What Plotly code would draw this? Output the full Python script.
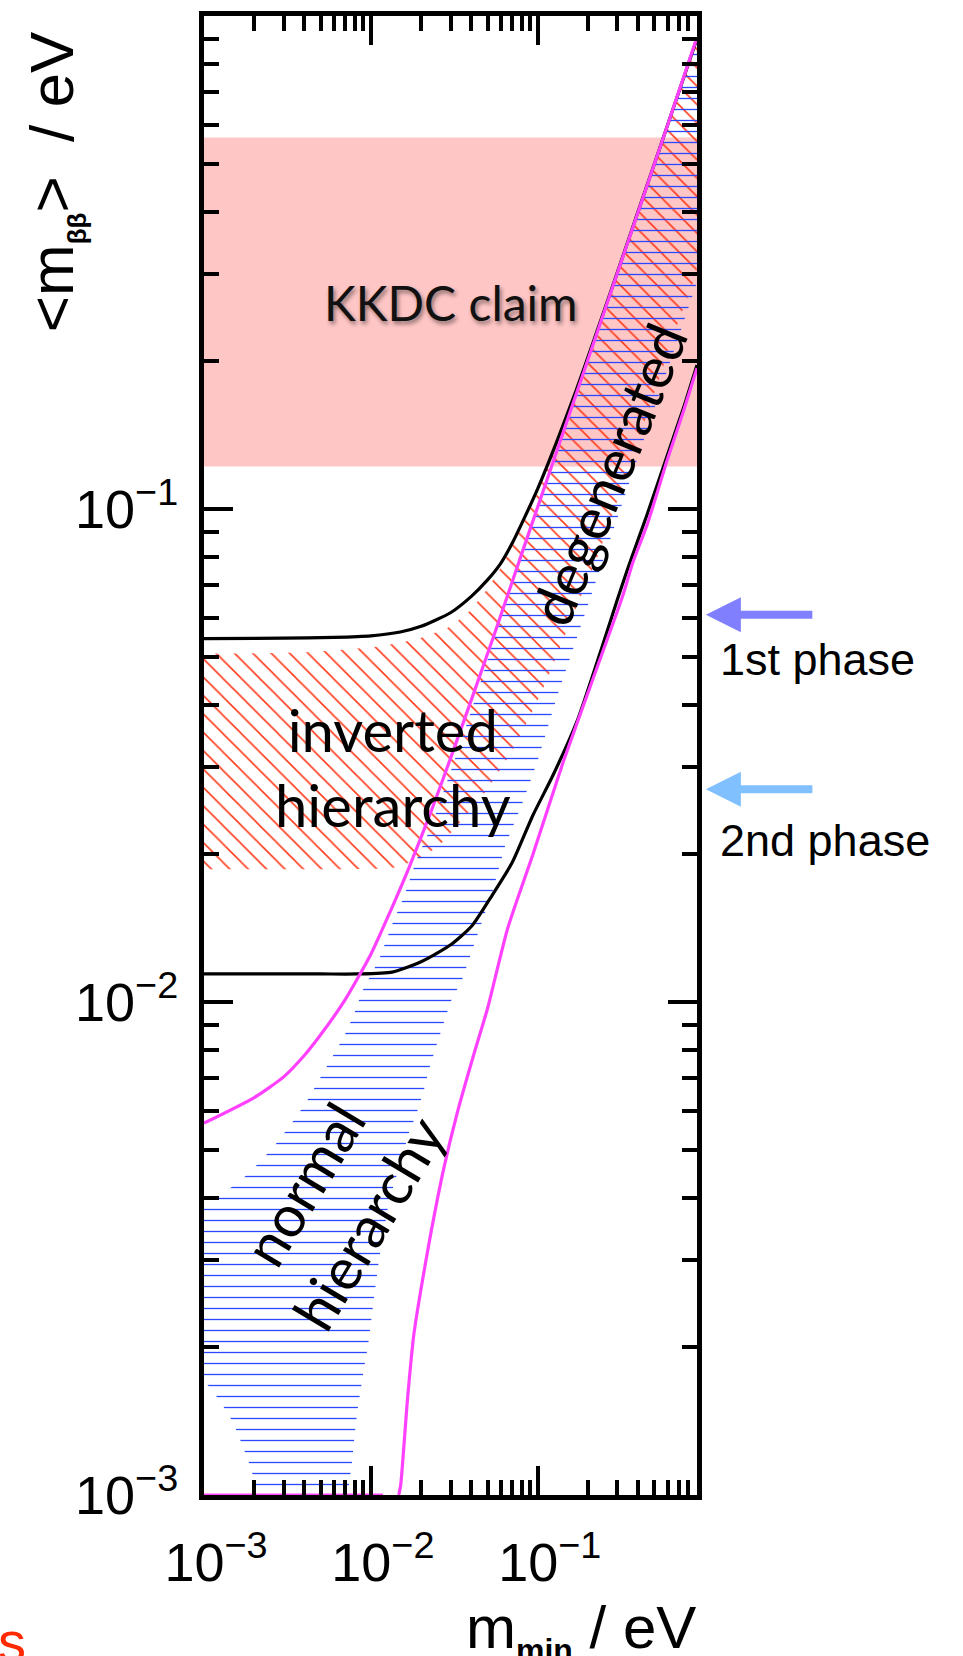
import math
import plotly.graph_objects as go

# ---------------- data ----------------
x_range = [0.001, 0.9]          # m_min axis limits (eV)
y_range = [0.001, 1.0]          # <m_bb> axis limits (eV)
tick_vals = [0.001, 0.01, 0.1]
tick_text = ["10<sup>−3</sup>", "10<sup>−2</sup>", "10<sup>−1</sup>"]

kkdc_band = [0.122, 0.567]      # KKDC claim range (eV)
phase_levels = [0.061, 0.027]   # 1st / 2nd phase sensitivity
phase_labels = ["1st phase", "2nd phase"]
phase_colors = ["#8080FF", "#80C0FF"]

# inverted hierarchy, 3 sigma upper (black)
ih3_up_x = [0.001, 0.003, 0.006, 0.01, 0.015, 0.02, 0.03, 0.04, 0.05, 0.06, 0.07, 0.08,
            0.1, 0.13, 0.17, 0.22, 0.3, 0.4, 0.55, 0.7, 0.9]
ih3_up_y = [0.0546, 0.0547, 0.0549, 0.0553, 0.0563, 0.0578, 0.0616, 0.0665, 0.0718, 0.0776,
            0.0850, 0.0933, 0.110, 0.137, 0.174, 0.223, 0.302, 0.402, 0.551, 0.701, 0.900]
# inverted hierarchy, 3 sigma lower (black)
ih3_lo_x = [0.001, 0.005, 0.0082, 0.0134, 0.0203, 0.0304, 0.0405, 0.0535, 0.0704, 0.0934,
            0.1232, 0.174, 0.245, 0.30, 0.35, 0.45, 0.6, 0.75, 0.9]
ih3_lo_y = [0.0114, 0.0114, 0.0114, 0.0115, 0.0121, 0.0131, 0.0143, 0.0165, 0.0192, 0.0239,
            0.0288, 0.0375, 0.0530, 0.0655, 0.0765, 0.0970, 0.129, 0.161, 0.196]
# normal hierarchy, 3 sigma upper (magenta)
nh3_up_x = [0.001, 0.002, 0.003, 0.004, 0.005, 0.007, 0.01, 0.013, 0.017, 0.023, 0.03, 0.04,
            0.055, 0.08, 0.12, 0.2, 0.35, 0.6, 0.9]
nh3_up_y = [0.00568, 0.0064, 0.00705, 0.0078, 0.00858, 0.0101, 0.0125, 0.0152, 0.0188, 0.0244,
            0.0312, 0.041, 0.0558, 0.081, 0.121, 0.201, 0.351, 0.601, 0.905]
# normal hierarchy, 3 sigma lower (magenta): part clipped at the axis floor, then rising branch
nh3_floor_x = [0.001, 0.0118]
nh3_floor_y = [0.001, 0.001]
nh3_lo_x = [0.0147, 0.0151, 0.01656, 0.0181, 0.0199, 0.02285, 0.02739,
            0.0331, 0.0417, 0.05, 0.066, 0.0934, 0.1417, 0.2136, 0.3223, 0.37, 0.455, 0.598,
            0.747, 0.9]
nh3_lo_y = [0.001, 0.00105, 0.00156, 0.00212, 0.0026, 0.00339, 0.00461,
            0.0060, 0.0079, 0.0097, 0.0141, 0.0199, 0.0306, 0.0451, 0.0665, 0.0776, 0.0935,
            0.126, 0.158, 0.193]

# inverted hierarchy best-fit band (red hatch)
ih_up_x = [0.001, 0.004, 0.0114, 0.0197, 0.0296, 0.0393, 0.05, 0.06, 0.07, 0.08, 0.1, 0.13,
           0.17, 0.22, 0.3, 0.4, 0.55, 0.7, 0.9]
ih_up_y = [0.0509, 0.0512, 0.0527, 0.0547, 0.0577, 0.0622, 0.0690, 0.0760, 0.0838, 0.0920,
           0.108, 0.135, 0.172, 0.221, 0.300, 0.400, 0.549, 0.699, 0.899]
ih_lo_x = [0.001, 0.008, 0.0134, 0.02, 0.0268, 0.0466, 0.0708, 0.107, 0.162, 0.228, 0.3,
           0.48, 0.69, 0.9]
ih_lo_y = [0.0186, 0.0186, 0.0187, 0.0196, 0.0211, 0.0262, 0.0325, 0.043, 0.0606, 0.080,
           0.104, 0.165, 0.238, 0.307]

# normal hierarchy best-fit band (blue hatch)
nh_up_x = [0.001, 0.00134, 0.00164, 0.00196, 0.00261, 0.00332, 0.00408, 0.00488, 0.00583,
           0.0069, 0.00792, 0.00886, 0.01124, 0.01337, 0.01589, 0.01884, 0.02314, 0.0318,
           0.0434, 0.0553, 0.0706, 0.1, 0.2, 0.4, 0.9]
nh_up_y = [0.0039, 0.00412, 0.00433, 0.00458, 0.00508, 0.00565, 0.00625, 0.00693, 0.00768,
           0.00851, 0.00944, 0.0105, 0.01224, 0.01432, 0.01647, 0.0195, 0.0228, 0.031,
           0.0424, 0.0552, 0.0717, 0.1, 0.199, 0.398, 0.895]
nh_lo_x = [0.001, 0.00125, 0.0015, 0.0017, 0.0019, 0.0021, 0.0035, 0.005, 0.0065, 0.0073,
           0.0077, 0.008, 0.0083, 0.0087, 0.0091, 0.0096, 0.01, 0.0104, 0.011, 0.0115, 0.0121,
           0.0128, 0.0139, 0.0155, 0.0166, 0.0188, 0.0207, 0.0223, 0.0246, 0.027, 0.030,
           0.0352, 0.0436, 0.0537, 0.0636, 0.0812, 0.1, 0.1324, 0.174, 0.25, 0.4, 0.6, 0.9]
nh_lo_y = [0.00171, 0.00155, 0.0014, 0.00126, 0.00114, 0.00101, 0.0004, 0.0003, 0.0006,
           0.00102, 0.00116, 0.00133, 0.00148, 0.00164, 0.00181, 0.002, 0.00222, 0.00246,
           0.00288, 0.00319, 0.00354, 0.00391, 0.00433, 0.00482, 0.00535, 0.00594, 0.00659,
           0.0073, 0.00812, 0.009, 0.0100, 0.0111, 0.0137, 0.0168, 0.0207, 0.0254, 0.0309,
           0.0423, 0.0560, 0.080, 0.128, 0.192, 0.288]

# ---------------- figure ----------------
LABEL_FONT = "Lato"
AX_FONT = "Liberation Sans"
BLACK = "#000000"
MAGENTA = "#FF40FF"

fig = go.Figure()

# KKDC band
fig.add_trace(go.Scatter(
    x=[x_range[0], x_range[1], x_range[1], x_range[0]],
    y=[kkdc_band[0], kkdc_band[0], kkdc_band[1], kkdc_band[1]],
    fill="toself", fillcolor="#FFC6C6", mode="lines", line=dict(width=0),
    hoverinfo="skip"))

# hatched bands
def band(xu, yu, xl, yl):
    return list(xu) + list(xl)[::-1], list(yu) + list(yl)[::-1]

bx, by = band(ih_up_x, ih_up_y, ih_lo_x, ih_lo_y)
fig.add_trace(go.Scatter(
    x=bx, y=by, fill="toself", mode="lines", line=dict(width=0, shape="spline", smoothing=0.5),
    fillcolor="rgba(0,0,0,0)",
    fillpattern=dict(shape="\\", fgcolor="#FF3A1A", bgcolor="rgba(0,0,0,0)",
                     size=13, solidity=0.12, fillmode="replace"),
    hoverinfo="skip"))

bx, by = band(nh_up_x, nh_up_y, nh_lo_x, nh_lo_y)
fig.add_trace(go.Scatter(
    x=bx, y=by, fill="toself", mode="lines", line=dict(width=0),
    fillcolor="rgba(0,0,0,0)",
    fillpattern=dict(shape="-", fgcolor="#2A48FF", bgcolor="rgba(0,0,0,0)",
                     size=11, solidity=0.12, fillmode="replace"),
    hoverinfo="skip"))

# envelopes
for xs, ys, col in [(ih3_up_x, ih3_up_y, BLACK), (ih3_lo_x, ih3_lo_y, BLACK),
                    (nh3_up_x, nh3_up_y, MAGENTA), (nh3_lo_x, nh3_lo_y, MAGENTA),
                    (nh3_floor_x, nh3_floor_y, MAGENTA)]:
    fig.add_trace(go.Scatter(x=xs, y=ys, mode="lines",
                             line=dict(color=col, width=3.2, shape="spline", smoothing=0.6),
                             hoverinfo="skip"))

axis_common = dict(
    type="log", showline=True, linewidth=5, linecolor=BLACK, mirror="ticks",
    ticks="inside", ticklen=29, tickwidth=4, tickcolor=BLACK,
    tickvals=tick_vals, ticktext=tick_text,
    tickfont=dict(family=AX_FONT, size=54, color=BLACK),
    showgrid=False, zeroline=False,
    minor=dict(ticks="inside", ticklen=15, tickwidth=4, tickcolor=BLACK,
               dtick="D1", showgrid=False),
)

fig.update_xaxes(range=[math.log10(x_range[0]), math.log10(x_range[1])],
                 ticklabelshift=12, ticklabelstandoff=16, **axis_common)
fig.update_yaxes(range=[math.log10(y_range[0]), math.log10(y_range[1])],
                 ticklabelstandoff=10, **axis_common)

ann = []
# labels inside the plot
ann.append(dict(x=math.log10(0.0302), y=math.log10(0.262), xref="x", yref="y",
                text="KKDC claim", showarrow=False, xanchor="center", yanchor="middle",
                font=dict(family=LABEL_FONT, size=48, color="#111111",
                          shadow="2px 3px 4px rgba(0,0,0,0.45)")))
ann.append(dict(x=math.log10(0.01356), y=math.log10(0.0300), xref="x", yref="y",
                text="inverted<br>hierarchy", showarrow=False, xanchor="center", yanchor="middle",
                font=dict(family=LABEL_FONT, size=58, color=BLACK)))
ann.append(dict(x=math.log10(0.2634), y=math.log10(0.1179), xref="x", yref="y",
                text="degenerated", showarrow=False, textangle=-67.6,
                xanchor="center", yanchor="middle",
                font=dict(family=LABEL_FONT, size=58, color=BLACK)))
ann.append(dict(x=math.log10(0.0061), y=math.log10(0.00392), xref="x", yref="y",
                text="normal<br>hierarchy", showarrow=False, textangle=-59,
                xanchor="center", yanchor="middle",
                font=dict(family=LABEL_FONT, size=58, color=BLACK)))

# phase arrows + labels
label_y_paper = [0.5647, 0.4427]
for lvl, lab, col, ly in zip(phase_levels, phase_labels, phase_colors, label_y_paper):
    ann.append(dict(x=1.018, y=math.log10(lvl), xref="paper", yref="y", text="",
                    showarrow=True, arrowhead=2, arrowsize=0.875, arrowwidth=8,
                    arrowcolor=col, ax=108, ay=0, standoff=0))
    ann.append(dict(x=1.0427, y=ly, xref="paper", yref="paper", text=lab,
                    showarrow=False, xanchor="left", yanchor="middle",
                    font=dict(family=AX_FONT, size=45, color=BLACK)))

# axis titles
ann.append(dict(x=-0.3028, y=0.8881, xref="paper", yref="paper",
                xanchor="center", yanchor="middle",
                text="&lt;m<sub><b><span style='font-size:26px'>ββ</span></b></sub>&gt;&nbsp; / eV",
                showarrow=False, textangle=-90,
                font=dict(family=AX_FONT, size=62, color=BLACK)))
ann.append(dict(x=1.002, y=-0.0922, xref="paper", yref="paper",
                xanchor="right", yanchor="middle",
                text="m<sub><b><span style='font-size:32px'>min</span></b></sub> / eV",
                showarrow=False, font=dict(family=AX_FONT, size=60, color=BLACK)))
ann.append(dict(x=-0.356, y=-0.099, xref="paper", yref="paper",
                xanchor="right", yanchor="middle",
                text="s", showarrow=False,
                font=dict(family=AX_FONT, size=56, color="#FF2A00")))

fig.update_layout(
    width=963, height=1656,
    margin=dict(l=204, r=266, t=11, b=161),
    paper_bgcolor="white", plot_bgcolor="white",
    showlegend=False, annotations=ann,
)

fig.write_html("out.html")
